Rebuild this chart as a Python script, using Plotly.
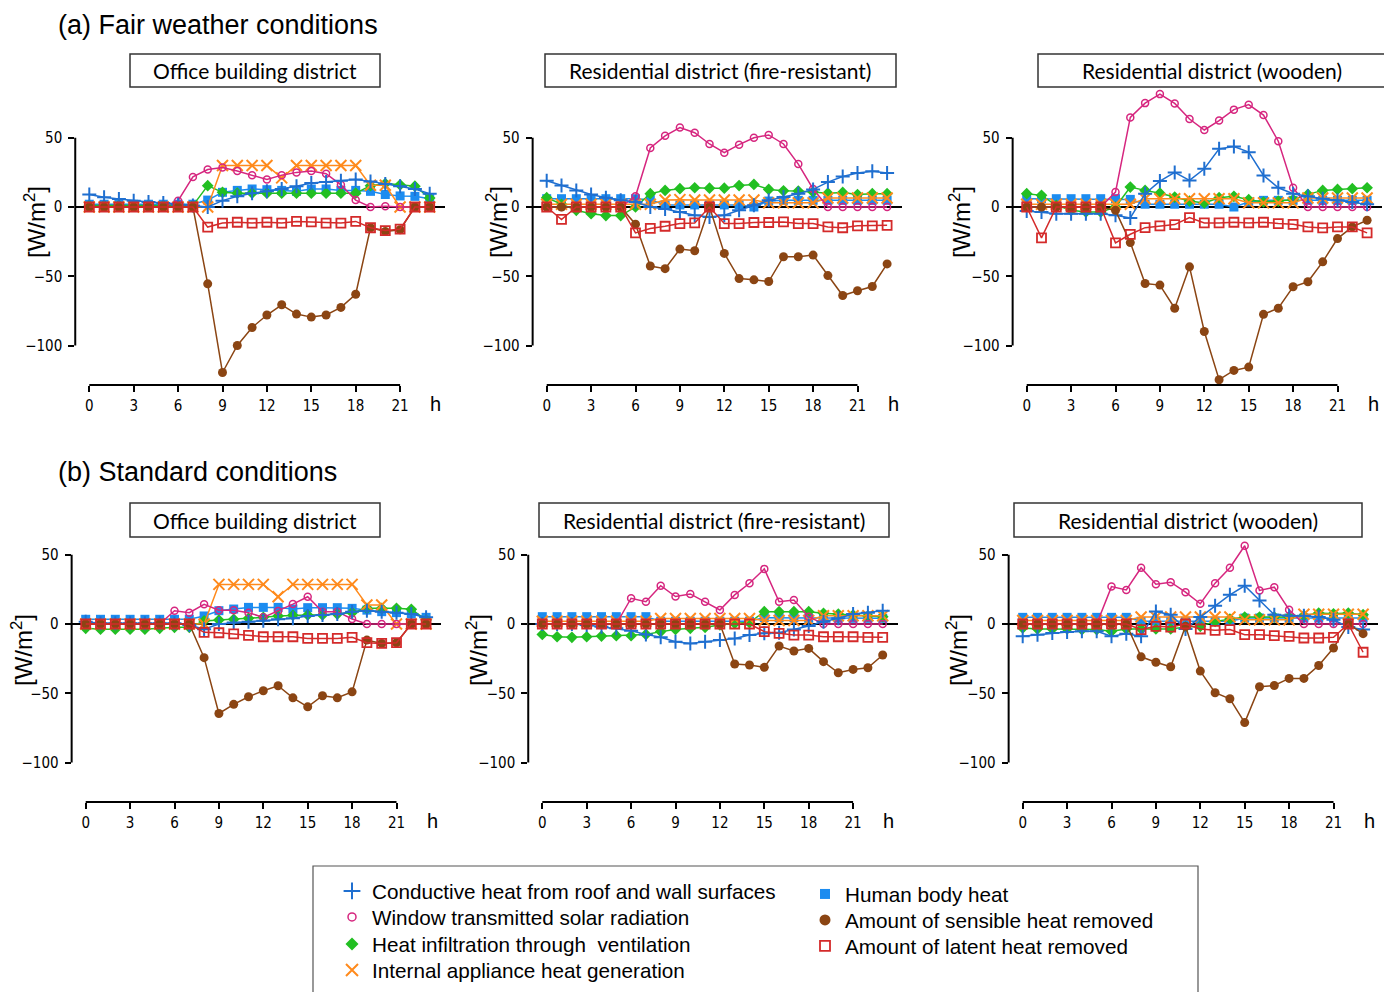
import plotly.graph_objects as go

# The page body has an 8 px default margin, so the figure is placed at (8, 8).
OFF = 8
W, H = 1376, 984
hours = list(range(24))
x_tick_vals = [0, 3, 6, 9, 12, 15, 18, 21]
y_tick_vals = [-100, -50, 0, 50]
y_tick_text = ["\u2212100", "\u221250", "0", "50"]

series_labels = [
    "Conductive heat from roof and wall surfaces",
    "Window transmitted solar radiation",
    "Heat infiltration through  ventilation",
    "Internal appliance heat generation",
    "Human body heat",
    "Amount of sensible heat removed",
    "Amount of latent heat removed",
]
row_titles = ["(a) Fair weather conditions", "(b) Standard conditions"]
panel_titles = ["Office building district", "Residential district (fire-resistant)",
                "Residential district (wooden)"]

# ---------------- (a) Fair weather: Office ----------------
a_off_cond = [9, 7, 5.8, 4.6, 3.6, 2.9, 1.7, 1, 0, 4.6, 7.7, 10, 11.3, 13, 15, 17.3, 18, 19, 19.8, 18.5, 16.6, 15, 13, 9.6]
a_off_win = [0, 0, 0, 0, 0, 0, 4.5, 21.7, 27, 28.5, 26, 23, 19.8, 23, 25, 26, 24, 16, 5, 0, 0.5, 0, 0, 0]
a_off_inf = [1, 1, 1, 1, 1, 1, 1, 1, 15.4, 10.6, 10, 10, 10, 10, 10, 10, 10, 10, 10, 15.4, 16.9, 16, 15, 6.5]
a_off_app = [0, 0, 0, 0, 0, 0, 0, 0, 0, 30, 30, 30, 30, 21, 30, 30, 30, 30, 30, 15.7, 15.7, 0, 0, 0]
a_off_hum = [2, 2, 2, 2, 2, 2, 2, 2, 5, 10.6, 12, 13, 12.5, 12, 11.3, 13, 13, 12, 12, 11.3, 9, 8, 7.7, 6]
a_off_sen = [0, 0, 0, 0, 0, 0, 0, 0, -55.5, -119.5, -100, -87, -78, -70.6, -77.3, -79.5, -78, -72.5, -63, -15, -17.6, -16.4, 0, 0]
a_off_lat = [0, 0, 0, 0, 0, 0, 0, 0, -14.5, -11.6, -11, -11.6, -11, -11.6, -10.4, -10.8, -11.6, -11.6, -10.4, -15, -17, -16, 0, 0]

# ---------------- (a) Fair weather: Residential fire-resistant ----------------
a_fir_cond = [19, 15.5, 12, 9, 6.7, 4.8, 3.6, 0, -1.4, -3.6, -6, -7.2, -6, -2.4, 1.2, 4.8, 7.2, 9.6, 12.7, 18, 22, 24.6, 25.8, 24.6]
a_fir_win = [0, 0, 0, 0, 0, 0, 7.7, 42.6, 51.4, 57.4, 53.6, 45.5, 39.2, 45, 50, 52, 45.5, 31, 13, 0, 0, 0, 0, 0]
a_fir_inf = [6.7, 2, -2.4, -4.8, -6.2, -6.2, 0, 9.6, 12, 13.2, 13.9, 13.6, 13.6, 15.5, 16.3, 12.7, 11.7, 11.5, 10.8, 10, 10.5, 9, 9.6, 9.6]
a_fir_app = [2, 2, 2, 2, 2, 2, 2, 2, 5, 5.3, 5, 5, 5, 5, 5, 3, 3, 3, 3, 6.5, 6.5, 6.5, 6.5, 6.5]
a_fir_hum = [6, 6, 6, 6, 6, 6, 6, 5.3, 1.5, 1.5, 1.5, 1.5, 1.5, 1.5, 0, 4.3, 4.8, 4.8, 4.8, 4.8, 4.8, 4.8, 4.8, 4.8]
a_fir_sen = [0, 0, 0, 0, 0, 0, -12.4, -42.6, -44.5, -30.4, -31.6, 0, -33.5, -51.7, -52.6, -53.8, -35.9, -35.9, -34.7, -49.5, -63.9, -60.5, -57.4, -41.1]
a_fir_lat = [0, -9, 0, 0, 0, 0, -18.7, -15.5, -13.9, -12, -11.5, 0, -12, -12, -11.2, -11.2, -10.8, -12, -12, -14.4, -15, -13.6, -13.6, -13.2]

# ---------------- (a) Fair weather: Residential wooden ----------------
a_wod_cond = [-2.9, -3.6, -4.8, -4.8, -4.8, -4.8, -6, -7.9, 9.6, 18.7, 25, 19.2, 27.6, 42, 43.6, 39.6, 22.8, 13.9, 9.6, 7.7, 6, 4.8, 3.6, 1.9]
a_wod_win = [0, 0, 0, 0, 0, 0, 10.8, 64.7, 75, 81.5, 74.8, 63.5, 55.6, 62.4, 70.3, 73.9, 66.4, 47.5, 13.9, 0, 0, 0, 0, 0]
a_wod_inf = [9.6, 8.4, 1.2, -2.4, -3.6, -3.6, 0, 14.4, 12, 10, 7.2, 4.3, 2.9, 6.7, 7.7, 5.3, 3.6, 4.3, 5.3, 9.1, 12, 12.7, 13.2, 13.9]
a_wod_app = [2, 2, 2, 2, 2, 2, 2, 2, 6, 6, 6, 6, 6, 6, 6, 3, 3, 3, 3, 6.5, 6.5, 6.5, 6.5, 6.5]
a_wod_hum = [6, 6, 6, 6, 6, 6, 6, 5.5, 2, 2, 2, 2, 2, 2, 0, 3.6, 4.8, 4.8, 4.8, 4.8, 4.8, 4.8, 4.8, 4.8]
a_wod_sen = [0, 0, 0, 0, 0, 0, -2.4, -25.7, -55.2, -56.4, -73.1, -43.2, -89.9, -124.7, -118, -115.6, -77.5, -73.1, -57.6, -54, -39.6, -22.8, -14.4, -9.6]
a_wod_lat = [0, -22.3, 0, 0, 0, 0, -25.9, -19.7, -14.9, -13.7, -12.7, -7.7, -11.5, -11.5, -11, -11.5, -11, -12, -12.5, -14.4, -15.1, -14.4, -14.4, -18.7]

# ---------------- (b) Standard: Office ----------------
b_off_cond = [1.7, 0.5, 0.5, 0.5, 0.5, 0.5, 0.5, -0.7, -3.8, 0, 1, 1.7, 2.4, 3.4, 4.1, 5.8, 6.5, 7.2, 8.9, 9.6, 8.9, 8.2, 7.2, 4.8]
b_off_win = [0, 0, 0, 0, 0, 0, 9.6, 8.2, 14.2, 10, 10, 8.2, 4.8, 9.4, 14.4, 19.7, 8.9, 8.9, 3.6, 0, 0, 0, 0, 0]
b_off_inf = [-3.1, -3.8, -3.8, -3.8, -3.8, -3.1, -2.4, -2.4, 2.2, 2.9, 3.4, 4.1, 4.8, 5.8, 6.3, 6.5, 6.5, 7.2, 8.2, 11.3, 11.3, 11.3, 10.6, 2.9]
b_off_app = [0, 0, 0, 0, 0, 0, 0, 0, 0, 28.6, 28.6, 28.6, 28.6, 19.7, 28.6, 28.6, 28.6, 28.6, 28.6, 13.7, 13.7, 0, 0, 0]
b_off_hum = [3.4, 3.4, 3.4, 3.4, 3.4, 3.4, 3.4, 3.4, 5.8, 9.6, 10.8, 12, 12, 12, 10.8, 11.8, 11.8, 11.8, 11.3, 10, 8.9, 8.2, 7.2, 4.8]
b_off_sen = [0, 0, 0, 0, 0, 0, 0, 0, -24.3, -64.6, -58, -52.5, -48.2, -44.6, -53.3, -59.8, -51.8, -53.3, -49, -11.6, -14, -13.5, 0, 0]
b_off_lat = [0, 0, 0, 0, 0, 0, 0, 0, -6, -6.3, -7.2, -8.2, -9.2, -9.2, -9.2, -10.4, -10.4, -10.4, -9.6, -13.5, -14, -13.5, 0, 0]

# ---------------- (b) Standard: Residential fire-resistant ----------------
b_fir_cond = [0, 0, 0, -0.7, -1.9, -3.1, -4.8, -7.5, -9.6, -12.8, -14, -12.8, -11.6, -10.4, -8, -6.7, -6.3, -3.9, -1.4, 1.7, 4.1, 7.2, 8.2, 9.6]
b_fir_win = [0, 0, 0, 0, 0, 0, 18.6, 16.1, 27.7, 19.8, 21.7, 16.1, 10.1, 21, 29.4, 39.8, 16.1, 17.3, 5.3, 0, 0, 0, 0, 0]
b_fir_inf = [-7.5, -9.2, -9.6, -9.2, -8.7, -8.4, -8.4, -7.5, -5.5, -3.9, -3.1, -2.4, -0.7, 0.5, 1, 8.9, 8.9, 8.9, 8.9, 7.7, 7.2, 6.5, 5.8, 5.3]
b_fir_app = [2, 2, 2, 2, 2, 2, 2, 2, 4, 4, 4, 4, 4, 4, 4, 2.5, 2.5, 2.5, 2.5, 6, 6, 6, 6, 6]
b_fir_hum = [5.3, 5.3, 5.3, 5.3, 5.3, 5.3, 5.3, 5.3, 2, 2, 2, 2, 2, 2, 2, 4.6, 4.6, 4.6, 4.1, 4.1, 4.1, 4.1, 4.1, 4.1]
b_fir_sen = [0, 0, 0, 0, 0, 0, 0, 0, 0, 0, 0, 0, 0, -28.9, -29.6, -31.3, -15.9, -19.5, -17.6, -27.2, -35.2, -32.8, -31.6, -22.4]
b_fir_lat = [0, 0, 0, 0, 0, 0, 0, 0, 0, 0, 0, 0, 0, 0, 0, -5.5, -6.7, -8, -8, -9.2, -9.2, -9.2, -9.6, -9.6]

# ---------------- (b) Standard: Residential wooden ----------------
b_wod_cond = [-8.9, -7.7, -6.5, -5.8, -5.3, -5.3, -8.9, -7, -8.9, 9.1, 6.7, -3.6, 5, 13.2, 21.1, 27.6, 17, 6.7, 6, 6, 5, 3.1, -2.2, -4]
b_wod_win = [0, 0, 0, 0, 0, 0, 27, 24.6, 40.6, 28.7, 30.2, 23, 14.6, 29.5, 40.6, 56.5, 24.2, 26.6, 10.3, 0, 0, 0, 0, 0]
b_wod_inf = [-2.9, -3.6, -3.6, -3.6, -4, -4, -5.3, -3.6, -3.6, -3.6, -3.6, -2.2, -1.7, 1.9, 3.6, 5, 5, 5, 5, 6, 7.9, 7.4, 7.9, 6.7]
b_wod_app = [2.5, 2.5, 2.5, 2.5, 2.5, 2.5, 2.5, 2.5, 5, 5, 5, 5, 5, 5, 5, 3, 3, 3, 3, 7, 7, 7, 7, 7]
b_wod_hum = [4.8, 4.8, 4.8, 4.8, 4.8, 4.8, 4.8, 4.8, 2, 2, 2, 2, 2, 2, 2, 4.3, 4.3, 4.3, 4.3, 4.3, 4.3, 4.3, 4.3, 4.3]
b_wod_sen = [0, 0, 0, 0, 0, 0, 0, 0, -23.7, -27.6, -30.9, -1.7, -34, -49.6, -54, -71.2, -45.3, -44.4, -39.3, -39.3, -30, -17.3, 0, -7]
b_wod_lat = [0, 0, 0, 0, 0, 0, 0, 0, -4, -1.7, -2.2, 0, -3.6, -4.6, -4, -7.7, -7.7, -8.4, -8.9, -10.1, -10.1, -9.6, 0, -20.4]

panels = [
    [a_off_cond, a_off_win, a_off_inf, a_off_app, a_off_hum, a_off_sen, a_off_lat],
    [a_fir_cond, a_fir_win, a_fir_inf, a_fir_app, a_fir_hum, a_fir_sen, a_fir_lat],
    [a_wod_cond, a_wod_win, a_wod_inf, a_wod_app, a_wod_hum, a_wod_sen, a_wod_lat],
    [b_off_cond, b_off_win, b_off_inf, b_off_app, b_off_hum, b_off_sen, b_off_lat],
    [b_fir_cond, b_fir_win, b_fir_inf, b_fir_app, b_fir_hum, b_fir_sen, b_fir_lat],
    [b_wod_cond, b_wod_win, b_wod_inf, b_wod_app, b_wod_hum, b_wod_sen, b_wod_lat],
]

# ---------------- styles ----------------
colors = ["#1f6fd0", "#d6267f", "#22bf22", "#ff8a1c", "#1c8cf0", "#8b4513", "#d42a2a"]
symbols = ["cross-thin-open", "circle-open", "diamond", "x-thin-open", "square", "circle", "square-open"]
sizes = [10, 7, 9, 11, 9, 9, 9]
mlws = [2, 1.5, 0, 2, 0, 0, 1.8]
leg_sizes = [12, 8, 10, 12, 10, 11, 10]
draw_order = [4, 2, 3, 1, 0, 5, 6]


def px_x(px):
    return (px - OFF) / W


def px_y(py):
    return 1 - (py - OFF) / H


TICK_FONT = dict(family="Liberation Sans Narrow, DejaVu Sans Condensed, Arial Narrow, sans-serif",
                 size=15, color="black")
PX_H, PX_U = 14.8, 1.385
XMIN, XMAX = -0.95, 24
YMIN, YMAX = -128.5, 88
panel_px = [(89.3, 207), (546.7, 207), (1026.7, 207), (85.7, 624), (542.3, 624), (1022.7, 624)]
ylabel_px = [(35, 222), (497, 222), (960, 222), (22, 650), (477, 650), (957, 650)]
box_px = [(130, 380, 54, 87), (545, 896, 54, 87), (1038, 1385, 54, 87),
          (130, 380, 503, 537), (539, 889, 503, 537), (1014, 1362, 503, 537)]
legend_px = [(332, 891), (332, 917), (332, 944), (332, 970), (805, 894), (805, 920), (805, 946)]

fig = go.Figure()
shapes, annotations = [], []
layout = {}

for p, series in enumerate(panels):
    n = p + 1
    xa = "x" if n == 1 else f"x{n}"
    ya = "y" if n == 1 else f"y{n}"
    X0, Z = panel_px[p]
    left, right = X0 + XMIN * PX_H, X0 + XMAX * PX_H
    top, bottom = Z - YMAX * PX_U, Z - YMIN * PX_U
    layout["xaxis" if n == 1 else f"xaxis{n}"] = dict(
        domain=[px_x(left), px_x(right)], range=[XMIN, XMAX], anchor=ya,
        showgrid=False, zeroline=False, showline=False,
        tickmode="array", tickvals=x_tick_vals, ticks="outside", ticklen=6, tickwidth=2,
        tickcolor="black", tickfont=TICK_FONT, ticklabelstandoff=1, fixedrange=True)
    layout["yaxis" if n == 1 else f"yaxis{n}"] = dict(
        domain=[px_y(bottom), px_y(top)], range=[YMIN, YMAX], anchor=xa,
        showgrid=False, zeroline=True, zerolinecolor="black", zerolinewidth=2, showline=False,
        tickmode="array", tickvals=y_tick_vals, ticktext=y_tick_text, ticks="outside",
        ticklen=6, tickwidth=2, tickcolor="black", tickfont=TICK_FONT, ticklabelstandoff=3,
        fixedrange=True)
    for k in draw_order:
        fig.add_trace(go.Scatter(
            x=hours, y=series[k], mode="lines+markers", xaxis=xa, yaxis=ya,
            line=dict(color=colors[k], width=1.5),
            marker=dict(symbol=symbols[k], size=sizes[k], color=colors[k],
                        line=dict(color=colors[k], width=mlws[k])),
            showlegend=False, cliponaxis=False, name=series_labels[k]))
    # detached x axis line (0..21 h)
    shapes.append(dict(type="line", xref=xa, yref=f"{ya} domain", x0=0, x1=21, y0=0, y1=0,
                       line=dict(color="black", width=2)))
    # y axis line (-100..50)
    shapes.append(dict(type="line", xref=f"{xa} domain", yref=ya, x0=0, x1=0, y0=-100, y1=50,
                       line=dict(color="black", width=2)))
    # "h" unit
    annotations.append(dict(text="h", xref=xa, x=23.4, xanchor="center", yref="paper",
                            y=px_y(bottom + 19), yanchor="middle", showarrow=False,
                            font=dict(family="Liberation Sans, Arial", size=20, color="black")))
    # y label
    lx, ly = ylabel_px[p]
    annotations.append(dict(text="[W/m<sup>2</sup>]", xref="paper", x=px_x(lx), xanchor="center",
                            yref="paper", y=px_y(ly), yanchor="middle",
                            textangle=-90, showarrow=False,
                            font=dict(family="Liberation Sans, Arial", size=24, color="black")))
    # panel title box
    bx0, bx1, by0, by1 = box_px[p]
    shapes.append(dict(type="rect", xref="paper", yref="paper", x0=px_x(bx0), x1=px_x(bx1),
                       y0=px_y(by1), y1=px_y(by0), line=dict(color="#333333", width=1.5)))
    annotations.append(dict(text=panel_titles[p % 3], xref="paper", yref="paper",
                            x=px_x((bx0 + bx1) / 2), xanchor="center",
                            y=px_y((by0 + by1) / 2), yanchor="middle", showarrow=False,
                            font=dict(family="Lato, Open Sans, sans-serif", size=21, color="black")))

# row titles
annotations.append(dict(text=row_titles[0], xref="paper", yref="paper", x=px_x(56), y=px_y(8),
                        xanchor="left", yanchor="top", showarrow=False,
                        font=dict(family="Liberation Sans, Arial", size=27, color="black")))
annotations.append(dict(text=row_titles[1], xref="paper", yref="paper", x=px_x(56), y=px_y(472),
                        xanchor="left", yanchor="middle", showarrow=False,
                        font=dict(family="Liberation Sans, Arial", size=27, color="black")))

# legend entries (marker-only symbols), one legend per entry
leg_font = dict(family="Liberation Sans, Arial", size=20.7, color="black")
for k in range(7):
    lname = "legend" if k == 0 else f"legend{k + 1}"
    fig.add_trace(go.Scatter(
        x=[None], y=[None], mode="markers", name=series_labels[k],
        marker=dict(symbol=symbols[k], size=leg_sizes[k], color=colors[k],
                    line=dict(color=colors[k], width=max(mlws[k], 1.5) if mlws[k] else 0)),
        legend=lname, showlegend=True))
    lx, ly = legend_px[k]
    layout[lname] = dict(x=px_x(lx), y=px_y(ly), xanchor="left", yanchor="middle", font=leg_font,
                         bgcolor="rgba(0,0,0,0)", itemclick=False, itemdoubleclick=False,
                         borderwidth=0)

shapes.append(dict(type="rect", xref="paper", yref="paper", x0=px_x(313), x1=px_x(1198),
                   y0=-0.02, y1=px_y(866), line=dict(color="#555555", width=1.2)))

fig.update_layout(
    width=W, height=H, margin=dict(l=0, r=0, t=0, b=0),
    paper_bgcolor="white", plot_bgcolor="white",
    shapes=shapes, annotations=annotations,
    **layout,
)

fig.write_html("out.html")
